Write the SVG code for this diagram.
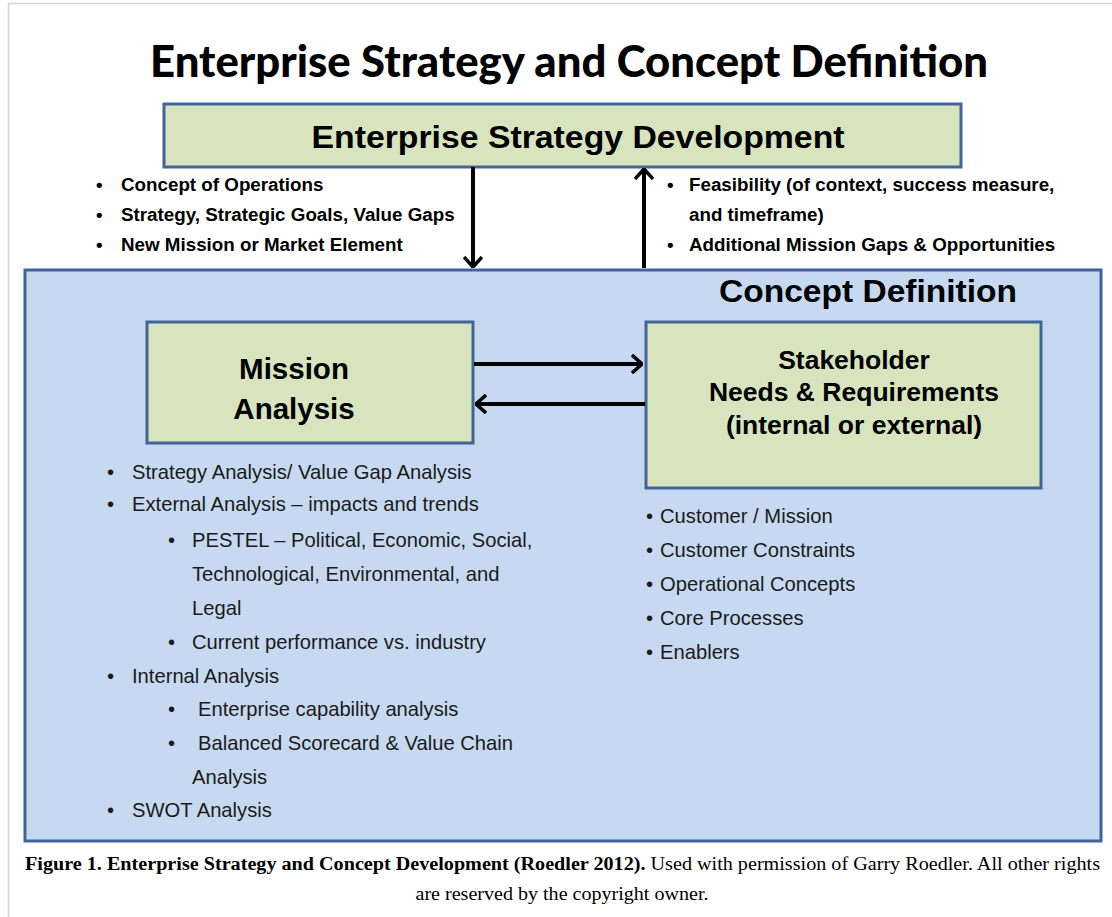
<svg xmlns="http://www.w3.org/2000/svg" width="1112" height="917" viewBox="0 0 1112 917">
<style>
.frame{stroke:#d4d4d4;stroke-width:1.5;fill:none}
.green{fill:#d7e4bd;stroke:#41659a;stroke-width:3}
.blue{fill:#c6d9f1;stroke:#41659a;stroke-width:3}
.hd{font-family:"Liberation Sans",Arial,sans-serif;font-weight:bold;fill:#000}
.ib{font-family:"Liberation Sans",Arial,sans-serif;font-weight:bold;font-size:18.8px;fill:#000}
.bl{font-family:"Liberation Sans",Arial,sans-serif;font-size:20.2px;fill:#1a1a1a}
.cap{font-family:"Liberation Serif","Times New Roman",serif;font-size:18px;fill:#000}
.arr{stroke:#000;stroke-width:4;fill:none}
</style>
<defs>
<marker id="ah" viewBox="0 0 12 20" refX="11" refY="10" markerWidth="12" markerHeight="20" markerUnits="userSpaceOnUse" orient="auto">
<path d="M1,1 L11,10 L1,19" fill="none" stroke="#000" stroke-width="3.5" stroke-linejoin="miter"/>
</marker>
</defs>
<rect x="0" y="0" width="1112" height="917" fill="#fff"/>
<path class="frame" d="M8.5,917 V3.5 H1112"/>
<text x="569" y="77" font-family="Lato,'Open Sans',sans-serif" font-weight="900" font-size="44" text-anchor="middle" textLength="838" lengthAdjust="spacingAndGlyphs">Enterprise Strategy and Concept Definition</text>

<g id="concept-definition">
<rect class="blue" x="25" y="270" width="1076" height="571"/>
<text class="hd" x="868" y="302" font-size="32" text-anchor="middle" textLength="298" lengthAdjust="spacingAndGlyphs">Concept Definition</text>
</g>

<g id="enterprise-strategy-development">
<rect class="green" x="164" y="104" width="797" height="63"/>
<text class="hd" x="578" y="148" font-size="32" text-anchor="middle" textLength="533" lengthAdjust="spacingAndGlyphs">Enterprise Strategy Development</text>
</g>

<g id="down-notes">
<g class="ib">
<text x="96" y="191">•</text><text x="121" y="191">Concept of Operations</text>
<text x="96" y="221">•</text><text x="121" y="221">Strategy, Strategic Goals, Value Gaps</text>
<text x="96" y="251">•</text><text x="121" y="251">New Mission or Market Element</text>
</g>
</g>
<g id="up-notes">
<g class="ib">
<text x="667" y="191">•</text><text x="689" y="191">Feasibility (of context, success measure,</text>
<text x="689" y="221">and timeframe)</text>
<text x="667" y="251">•</text><text x="689" y="251">Additional Mission Gaps &amp; Opportunities</text>
</g>
</g>

<g id="mission-analysis">
<rect class="green" x="147" y="322" width="326" height="121"/>
<text class="hd" x="294" y="379" font-size="29.5" text-anchor="middle">Mission</text>
<text class="hd" x="294" y="419" font-size="29.5" text-anchor="middle">Analysis</text>
</g>

<g id="stakeholder-needs">
<rect class="green" x="646" y="322" width="395" height="166"/>
<text class="hd" x="854" y="369" font-size="26.5" text-anchor="middle">Stakeholder</text>
<text class="hd" x="854" y="401" font-size="26.5" text-anchor="middle">Needs &amp; Requirements</text>
<text class="hd" x="854" y="434" font-size="26.5" text-anchor="middle">(internal or external)</text>
</g>

<g id="mission-analysis-bullets" class="bl">
<text x="107" y="479">•</text><text x="132" y="479">Strategy Analysis/ Value Gap Analysis</text>
<text x="107" y="511">•</text><text x="132" y="511">External Analysis – impacts and trends</text>
<text x="168" y="547">•</text><text x="192" y="547">PESTEL – Political, Economic, Social,</text>
<text x="192" y="581">Technological, Environmental, and</text>
<text x="192" y="615">Legal</text>
<text x="168" y="649">•</text><text x="192" y="649">Current performance vs. industry</text>
<text x="107" y="683">•</text><text x="132" y="683">Internal Analysis</text>
<text x="168" y="716">•</text><text x="198" y="716">Enterprise capability analysis</text>
<text x="168" y="750">•</text><text x="198" y="750">Balanced Scorecard &amp; Value Chain</text>
<text x="192" y="784">Analysis</text>
<text x="107" y="817">•</text><text x="132" y="817">SWOT Analysis</text>
</g>

<g id="stakeholder-bullets" class="bl">
<text x="646" y="523">•</text><text x="660" y="523">Customer / Mission</text>
<text x="646" y="557">•</text><text x="660" y="557">Customer Constraints</text>
<text x="646" y="591">•</text><text x="660" y="591">Operational Concepts</text>
<text x="646" y="625">•</text><text x="660" y="625">Core Processes</text>
<text x="646" y="659">•</text><text x="660" y="659">Enablers</text>
</g>

<g id="connectors">
<line class="arr" x1="473" y1="167" x2="473" y2="267" marker-end="url(#ah)"/>
<line class="arr" x1="644" y1="268" x2="644" y2="169" marker-end="url(#ah)"/>
<line class="arr" x1="474" y1="364" x2="642" y2="364" marker-end="url(#ah)"/>
<line class="arr" x1="645" y1="404" x2="476" y2="404" marker-end="url(#ah)"/>
</g>

<g id="caption">
<text class="cap" x="25" y="870" textLength="1075" lengthAdjust="spacingAndGlyphs"><tspan font-weight="bold">Figure 1. Enterprise Strategy and Concept Development (Roedler 2012).</tspan> Used with permission of Garry Roedler. All other rights</text>
<text class="cap" x="562" y="900" text-anchor="middle" textLength="293" lengthAdjust="spacingAndGlyphs">are reserved by the copyright owner.</text>
</g>
</svg>
